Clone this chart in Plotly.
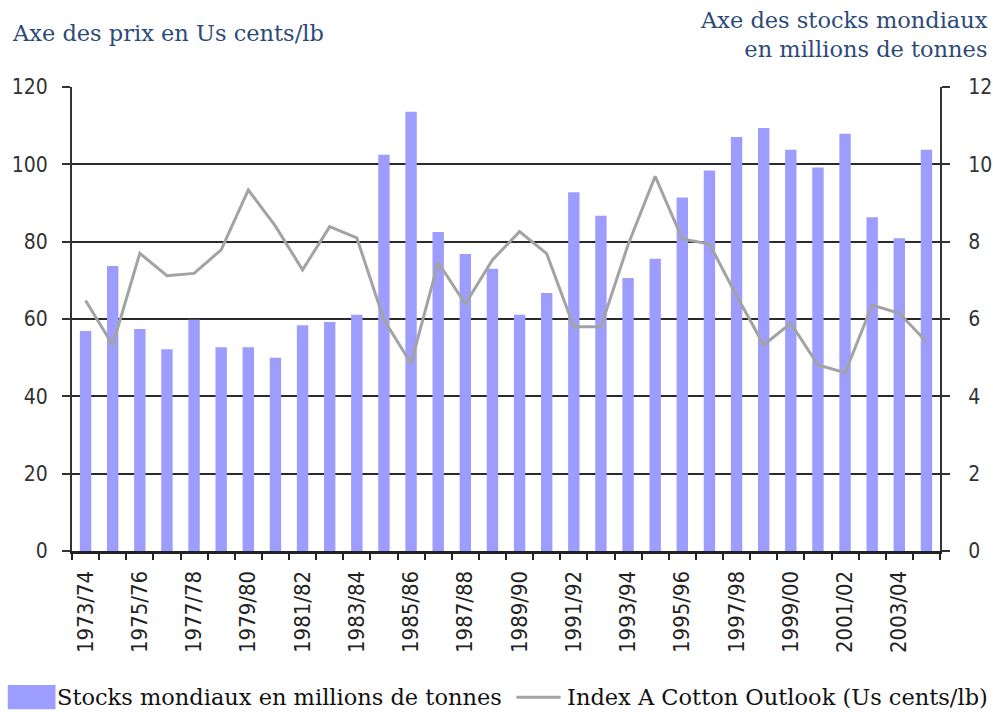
import plotly.graph_objects as go

# Campaigns (crop years)
seasons = [
    "1973/74", "1974/75", "1975/76", "1976/77", "1977/78", "1978/79", "1979/80", "1980/81",
    "1981/82", "1982/83", "1983/84", "1984/85", "1985/86", "1986/87", "1987/88", "1988/89",
    "1989/90", "1990/91", "1991/92", "1992/93", "1993/94", "1994/95", "1995/96", "1996/97",
    "1997/98", "1998/99", "1999/00", "2000/01", "2001/02", "2002/03", "2003/04", "2004/05",
]

# World stocks, million tonnes (right axis)
stocks = [
    5.69, 7.37, 5.74, 5.22, 5.98, 5.27, 5.27, 5.00,
    5.84, 5.92, 6.11, 10.25, 11.36, 8.25, 7.68, 7.30,
    6.11, 6.67, 9.28, 8.67, 7.06, 7.56, 9.14, 9.84,
    10.71, 10.94, 10.38, 9.92, 10.79, 8.63, 8.09, 10.38,
]

# Index A Cotton Outlook, US cents/lb (left axis)
price = [
    64.8, 53.3, 77.0, 71.2, 71.8, 77.9, 93.4, 84.0,
    72.7, 83.9, 81.0, 59.8, 48.5, 74.6, 63.9, 75.3,
    82.6, 76.9, 58.0, 58.0, 79.2, 96.9, 80.7, 79.4,
    66.0, 53.3, 58.9, 48.1, 46.1, 63.6, 61.5, 54.1,
]

price_ticks = [0, 20, 40, 60, 80, 100, 120]
stock_ticks = [0, 2, 4, 6, 8, 10, 12]

bar_color = "#9d9dff"
line_color = "#a3a3a3"
title_color = "#2c4a78"
serif = "DejaVu Serif, Liberation Serif, serif"
narrow = "Liberation Sans Narrow, DejaVu Sans Condensed, Liberation Sans, sans-serif"
text_size = 22.5

fig = go.Figure()

fig.add_trace(go.Bar(
    x=seasons, y=stocks, yaxis="y",
    marker=dict(color=bar_color, line=dict(width=0)),
    width=0.42,
    name="Stocks mondiaux en millions de tonnes",
))

fig.add_trace(go.Scatter(
    x=seasons, y=price, yaxis="y2", mode="lines",
    line=dict(color=line_color, width=3),
    name="Index A Cotton Outlook (Us cents/lb)",
))

fig.update_layout(
    width=993, height=713,
    margin=dict(l=72, r=53, t=87, b=162),
    paper_bgcolor="white", plot_bgcolor="white",
    showlegend=False,
    xaxis=dict(
        type="category",
        tickvals=seasons,
        ticktext=[s if i % 2 == 0 else "" for i, s in enumerate(seasons)],
        tickangle=-90,
        tickson="boundaries",
        ticks="outside", ticklen=6, tickwidth=2, tickcolor="#222",
        showline=True, linecolor="#222", linewidth=3,
        showgrid=False,
        tickfont=dict(family=narrow, size=22, color="#222"),
        ticklabelstandoff=8,
        range=[-0.5, len(seasons) - 0.5],
        automargin=False,
    ),
    yaxis=dict(
        side="right",
        range=[0, 12],
        tickvals=stock_ticks,
        ticks="outside", ticklen=8, tickwidth=2, tickcolor="#333",
        showline=True, linecolor="#333", linewidth=2,
        showgrid=True, gridcolor="#2a2a2a", gridwidth=2,
        zeroline=False,
        tickfont=dict(family=narrow, size=21, color="#333"),
        ticklabelstandoff=14,
        automargin=False,
    ),
    yaxis2=dict(
        overlaying="y", side="left",
        range=[0, 120],
        tickvals=price_ticks,
        ticks="outside", ticklen=8, tickwidth=2, tickcolor="#333",
        showline=True, linecolor="#333", linewidth=2,
        showgrid=False, zeroline=False,
        tickfont=dict(family=narrow, size=21, color="#333"),
        ticklabelstandoff=10,
        automargin=False,
    ),
)

# Axis captions
fig.add_annotation(
    text="Axe des prix en Us cents/lb", xref="paper", yref="paper",
    x=-0.071, y=1.0, yshift=54, xanchor="left", yanchor="middle",
    showarrow=False, font=dict(family=serif, size=text_size, color=title_color),
)
fig.add_annotation(
    text="Axe des stocks mondiaux<br>en millions de tonnes", xref="paper", yref="paper",
    x=1.058, y=1.0, yshift=53, xanchor="right", yanchor="middle", align="right",
    showarrow=False, font=dict(family=serif, size=text_size, color=title_color),
)

# Legend drawn beneath the plot
legend_y = -0.315
fig.add_shape(type="rect", xref="paper", yref="paper",
              x0=-0.074, x1=-0.019, y0=legend_y - 0.026, y1=legend_y + 0.026,
              fillcolor=bar_color, line=dict(width=0))
fig.add_annotation(
    text="Stocks mondiaux en millions de tonnes", xref="paper", yref="paper",
    x=-0.02, y=legend_y, xanchor="left", yanchor="middle", showarrow=False,
    font=dict(family=serif, size=text_size, color="#111"),
)
fig.add_shape(type="line", xref="paper", yref="paper",
              x0=0.512, x1=0.563, y0=legend_y, y1=legend_y,
              line=dict(color=line_color, width=3))
fig.add_annotation(
    text="Index A Cotton Outlook (Us cents/lb)", xref="paper", yref="paper",
    x=0.568, y=legend_y, xanchor="left", yanchor="middle", showarrow=False,
    font=dict(family=serif, size=text_size, color="#111"),
)

fig.write_html("out.html")
